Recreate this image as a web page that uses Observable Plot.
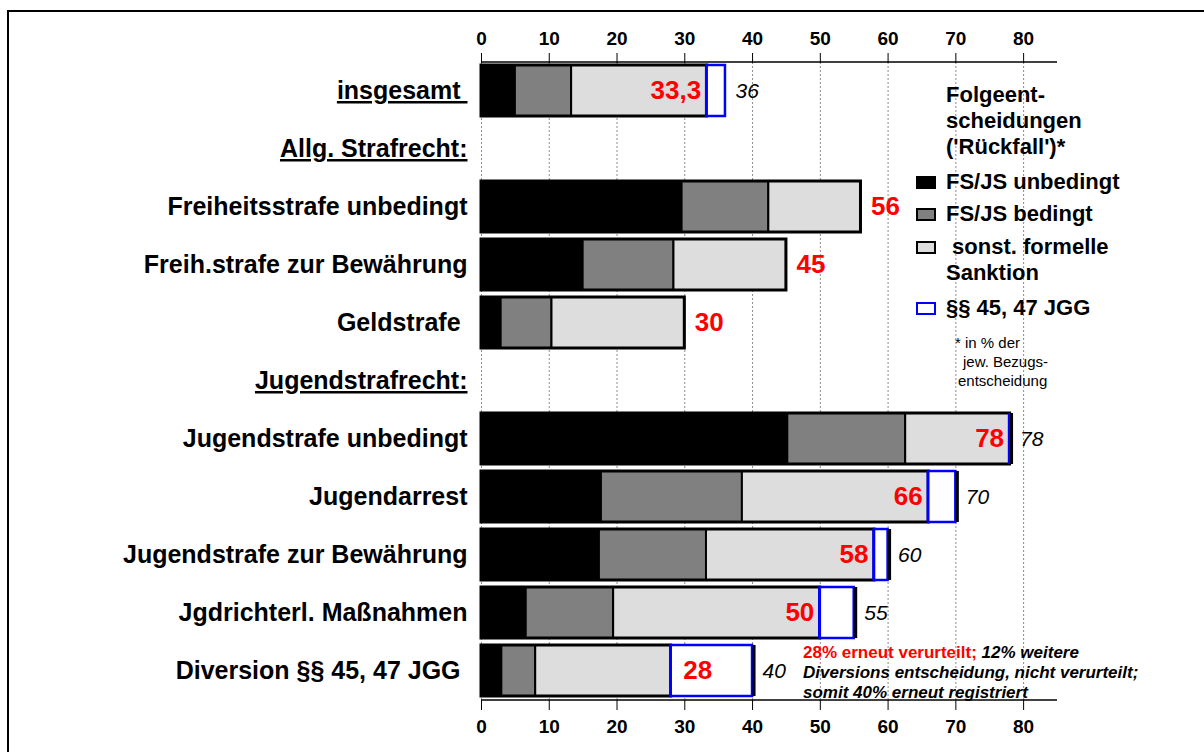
<!DOCTYPE html>
<html>
<head>
<meta charset="utf-8">
<script src="https://cdn.jsdelivr.net/npm/d3@7"></script>
<script src="https://cdn.jsdelivr.net/npm/@observablehq/plot@0.6"></script>
<style>
  html, body { margin: 0; padding: 0; background: #fff; overflow: hidden; }
  #wrap { position: relative; width: 1204px; height: 752px; overflow: hidden;
          font-family: "Liberation Sans", Arial, Helvetica, sans-serif; color: #000; }
  #frame { position: absolute; left: 7px; top: 10px; width: 1400px; height: 900px;
           border-left: 2px solid #000; border-top: 2px solid #000; }
  #chart { position: absolute; left: 0; top: 0; }
  .lg { position: absolute; white-space: pre; font-weight: bold; font-size: 22px; line-height: 26px; }
  .sw { position: absolute; left: 916px; width: 16px; height: 9px; border: 2px solid #000; }
  .fn { position: absolute; white-space: pre; font-size: 15px; line-height: 19px; }
  .ann { position: absolute; white-space: pre; font-weight: bold; font-style: italic;
         font-size: 17px; line-height: 20px; }
  .ann.red { color: #ff0000; font-style: normal; }
</style>
</head>
<body>
<div id="wrap">
  <div id="frame"></div>
  <div id="chart"></div>
  <div id="legend"></div>
  <div id="note"></div>
</div>
<script>
// ---------- data ----------
const categories = [
  "insgesamt\u00a0",
  "Allg. Strafrecht:",
  "Freiheitsstrafe unbedingt",
  "Freih.strafe zur Bewährung",
  "Geldstrafe\u00a0",
  "Jugendstrafrecht:",
  "Jugendstrafe unbedingt",
  "Jugendarrest",
  "Jugendstrafe zur Bewährung",
  "Jgdrichterl. Maßnahmen",
  "Diversion §§ 45, 47 JGG\u00a0"
];
const headers = ["insgesamt\u00a0", "Allg. Strafrecht:", "Jugendstrafrecht:"];
// shares (in % of the respective reference decision)
const fsjsUnbedingt = [5, null, 29.6, 15, 2.9, null, 45.2, 17.7, 17.4, 6.6, 3];
const fsjsBedingt   = [8.3, null, 12.8, 13.4, 7.5, null, 17.4, 20.8, 15.8, 12.9, 5];
const formellGesamt = [33.3, null, 56, 45, 30, null, 78, 66, 58, 50, 28];   // red labels
const registriert   = [36, null, null, null, null, null, 78, 70, 60, 55, 40]; // incl. §§ 45, 47 JGG
const xTicks = [0, 10, 20, 30, 40, 50, 60, 70, 80];
const xMax = 85;

const legendTitle = "Folgeent-\nscheidungen\n('Rückfall')*";
const seriesLabels = ["FS/JS unbedingt", "FS/JS bedingt", " sonst. formelle\nSanktion", "§§ 45, 47 JGG"];
const seriesFill   = ["#000000", "#808080", "#dddddd", "#ffffff"];
const seriesStroke = ["#000000", "#000000", "#000000", "#0000ff"];
const footnote = ["* in % der", "jew. Bezugs-", "entscheidung"];
const noteLine1Red = "28% erneut verurteilt;";
const noteLine1 = " 12% weitere";
const noteLine2 = "Diversions entscheidung, nicht verurteilt;";
const noteLine3 = "somit 40% erneut registriert";

// ---------- derived tables ----------
const rows = categories.map((cat, i) => ({
  cat, u: fsjsUnbedingt[i], b: fsjsBedingt[i], f: formellGesamt[i], r: registriert[i], i
}));
const bars = rows.filter(d => d.f != null);
const withReg = bars.filter(d => d.r != null);
const fmt = v => String(v).replace(".", ",");

const W = 1204, H = 752, mTop = 62, mBottom = 52, mLeft = 481, mRight = 147;
const font = "'Liberation Sans', Arial, Helvetica, sans-serif";

const chart = Plot.plot({
  width: W, height: H,
  marginTop: mTop, marginBottom: mBottom, marginLeft: mLeft, marginRight: mRight,
  style: { fontFamily: font, background: "transparent", color: "#000", overflow: "visible" },
  x: { domain: [0, xMax] },
  y: { domain: categories, paddingInner: 0.12, paddingOuter: 0.05 },
  marks: [
    Plot.gridX(xTicks, { stroke: "#8c8c8c", strokeOpacity: 1, strokeWidth: 1, strokeDasharray: "2,2" }),
    // segments
    Plot.barX(bars, { y: "cat", x1: 0, x2: "u", fill: seriesFill[0], stroke: "#000", strokeWidth: 2 }),
    Plot.barX(bars, { y: "cat", x1: "u", x2: d => d.u + d.b, fill: seriesFill[1], stroke: "#000", strokeWidth: 2 }),
    Plot.barX(bars, { y: "cat", x1: d => d.u + d.b, x2: "f", fill: seriesFill[2], stroke: "#000", strokeWidth: 2 }),
    // outline of the formal sanctions bar
    Plot.barX(bars, { y: "cat", x1: 0, x2: "f", fill: "none", stroke: "#000", strokeWidth: 3 }),
    // §§ 45, 47 JGG part
    Plot.barX(withReg.filter(d => d.r > d.f), { y: "cat", x1: "f", x2: "r", fill: "#fff", stroke: "#0000ff", strokeWidth: 2.5 }),
    Plot.tickX(withReg, { y: "cat", x: "f", stroke: "#0000ff", strokeWidth: 2.5, dx: -1 }),
    Plot.tickX(withReg.filter(d => d.i > 0), { y: "cat", x: "r", stroke: "#000", strokeWidth: 3, dx: 1.5 }),
    // red labels: after bar (no registration total)
    Plot.text(bars.filter(d => d.r == null), { y: "cat", x: "f", text: d => fmt(d.f), textAnchor: "start", dx: 10,
      fill: "#ff0000", fontWeight: "bold", fontSize: 26 }),
    // red labels: inside wide blue box
    Plot.text(withReg.filter(d => d.r - d.f >= 8), { y: "cat", x: "f", text: d => fmt(d.f), textAnchor: "start", dx: 12,
      fill: "#ff0000", fontWeight: "bold", fontSize: 26 }),
    // red labels: inside light segment, white background
    Plot.text(withReg.filter(d => d.r - d.f < 8), { y: "cat", x: "f", text: d => fmt(d.f), textAnchor: "end", dx: -6,
      fill: "#ff0000", fontWeight: "bold", fontSize: 26, ariaLabel: "rot-innen" }),
    // italic totals
    Plot.text(withReg, { y: "cat", x: "r", text: d => fmt(d.r), textAnchor: "start", dx: 10,
      fill: "#000", fontStyle: "italic", fontSize: 21 }),
    // axes
    Plot.axisX({ anchor: "top", ticks: xTicks, tickSize: 10, tickPadding: 8, fontSize: 19, fontWeight: "bold", label: null }),
    Plot.axisX({ anchor: "bottom", ticks: xTicks, tickSize: 10, tickPadding: 9, fontSize: 19, fontWeight: "bold", label: null }),
    Plot.axisY({ tickSize: 0, tickPadding: 14, fontSize: 25, fontWeight: "bold", label: null })
  ]
});
document.getElementById("chart").append(chart);

const svg = d3.select(chart);
// underline section headers
svg.selectAll('g[aria-label="y-axis tick label"] text').each(function () {
  if (headers.includes(this.textContent)) this.style.textDecoration = "underline";
});
// axis lines at top and bottom, from the x scale
const xs = chart.scale("x");
[mTop, H - mBottom].forEach(yy => {
  svg.append("line").attr("x1", xs.apply(0)).attr("x2", xs.apply(xMax))
    .attr("y1", yy).attr("y2", yy).attr("stroke", "#000").attr("stroke-width", 1.5);
});
// white boxes behind red labels that sit inside bars
svg.selectAll('g[aria-label="rot-innen"] text').each(function () {
  const b = this.getBBox();
  const r = d3.select(this.parentNode).insert("rect", () => this)
    .attr("x", b.x - 2).attr("y", b.y + 1).attr("width", b.width + 4).attr("height", b.height - 2)
    .attr("fill", "#fff");
  const t = this.getAttribute("transform");
  if (t) r.attr("transform", t);
});

// ---------- legend (HTML) ----------
const lg = document.getElementById("legend");
function addDiv(parent, cls, text, left, top) {
  const el = document.createElement("div");
  el.className = cls; el.textContent = text;
  el.style.left = left + "px"; el.style.top = top + "px";
  parent.append(el); return el;
}
addDiv(lg, "lg", legendTitle, 946, 82);
const itemCenters = [182, 214, 247, 308];
seriesLabels.forEach((lab, k) => {
  addDiv(lg, "lg", lab, 946, itemCenters[k] - 13);
  const sw = document.createElement("div");
  sw.className = "sw";
  sw.style.top = (itemCenters[k] - 6.5) + "px";
  sw.style.background = seriesFill[k];
  sw.style.borderColor = seriesStroke[k];
  lg.append(sw);
});
const fnLeft = [955, 963, 958], fnCenter = [342, 361, 380];
footnote.forEach((t, k) => addDiv(lg, "fn", t, fnLeft[k], fnCenter[k] - 9.5));

// ---------- annotation ----------
const note = document.getElementById("note");
const noteLeft = 803, noteTop = 643;
const red = addDiv(note, "ann red", noteLine1Red, noteLeft, noteTop);
const redW = red.getBoundingClientRect().width;
addDiv(note, "ann", noteLine1, noteLeft + redW, noteTop);
addDiv(note, "ann", noteLine2, noteLeft, noteTop + 20);
addDiv(note, "ann", noteLine3, noteLeft, noteTop + 40);
</script>
</body>
</html>
